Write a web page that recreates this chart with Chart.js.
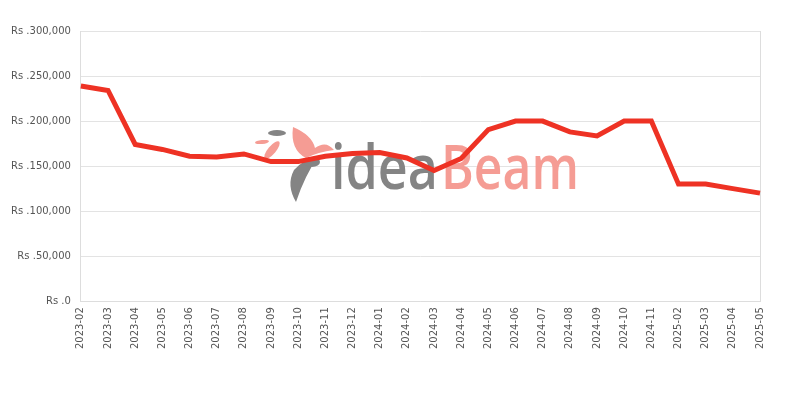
<!DOCTYPE html>
<html>
<head>
<meta charset="utf-8">
<script src="https://cdn.jsdelivr.net/npm/chart.js@4"></script>
<style>
  html, body { margin: 0; padding: 0; background: #fff; }
  #wrap { width: 800px; height: 400px; }
</style>
</head>
<body>
<div id="wrap"><canvas id="priceChart"></canvas></div>
<script>
const months = [
  "2023-02", "2023-03", "2023-04", "2023-05", "2023-06", "2023-07", "2023-08",
  "2023-09", "2023-10", "2023-11", "2023-12", "2024-01", "2024-02", "2024-03",
  "2024-04", "2024-05", "2024-06", "2024-07", "2024-08", "2024-09", "2024-10",
  "2024-11", "2025-02", "2025-03", "2025-04", "2025-05"
];
const prices = [
  239000, 234000, 174000, 168500, 161000, 160000, 163500,
  155000, 155000, 161000, 164000, 165000, 159000, 145000,
  158500, 190500, 200000, 200000, 188000, 183500, 200000,
  200000, 130000, 130000, 125000, 120000
];
const yTicks = [0, 50000, 100000, 150000, 200000, 250000, 300000];

// stretch a word into a given box width
function fitText(ctx, txt, x, base, w) {
  const m = ctx.measureText(txt).width;
  ctx.save();
  ctx.translate(x, base);
  ctx.scale(w / m, 1);
  ctx.fillText(txt, 0, 0);
  ctx.restore();
}

// watermark drawn behind the line
const watermark = {
  id: "watermark",
  beforeDatasetsDraw(chart) {
    const ctx = chart.ctx;
    ctx.save();
    ctx.font = "600 62px 'Open Sans', sans-serif";
    ctx.textBaseline = "alphabetic";
    ctx.fillStyle = "#848484";
    fitText(ctx, "idea", 331, 189, 107);
    ctx.fillStyle = "#f59c94";
    fitText(ctx, "Beam", 441, 189, 138);

    // rough bird logo
    ctx.fillStyle = "#f59c94";
    ctx.beginPath();
    ctx.moveTo(293, 127);
    ctx.quadraticCurveTo(312, 135, 315, 148);
    ctx.quadraticCurveTo(326, 140, 334, 150);
    ctx.quadraticCurveTo(318, 152, 306, 158);
    ctx.quadraticCurveTo(290, 150, 293, 127);
    ctx.fill();
    ctx.beginPath();
    ctx.ellipse(272, 150, 4, 11, 0.7, 0, Math.PI * 2);
    ctx.fill();
    ctx.beginPath();
    ctx.ellipse(262, 142, 7, 2, -0.1, 0, Math.PI * 2);
    ctx.fill();
    ctx.fillStyle = "#848484";
    ctx.beginPath();
    ctx.ellipse(277, 133, 9, 3, 0, 0, Math.PI * 2);
    ctx.fill();
    ctx.beginPath();
    ctx.moveTo(296, 202);
    ctx.quadraticCurveTo(286, 185, 294, 170);
    ctx.quadraticCurveTo(305, 158, 318, 157);
    ctx.quadraticCurveTo(305, 175, 296, 202);
    ctx.fill();
    ctx.beginPath();
    ctx.ellipse(312, 162, 8, 5, 0, 0, Math.PI * 2);
    ctx.fill();
    ctx.restore();
  }
};

const last = months.length - 1;

new Chart(document.getElementById("priceChart"), {
  type: "line",
  data: {
    labels: months,
    datasets: [{
      data: prices,
      borderColor: "#ee3224",
      borderWidth: 5,
      pointRadius: 0,
      fill: false,
      tension: 0,
    }],
  },
  options: {
    responsive: true,
    maintainAspectRatio: false,
    animation: false,
    layout: { padding: { left: 1, right: 40, top: 31, bottom: 45 } },
    plugins: { legend: { display: false }, tooltip: { enabled: false } },
    scales: {
      x: {
        grid: {
          drawTicks: false,
          color: (c) => (c.index === 0 || c.index === last) ? "#dddddd" : "rgba(0,0,0,0)",
        },
        border: { color: "#dddddd" },
        ticks: {
          font: { family: "DejaVu Sans", size: 10 },
          color: "#555",
          maxRotation: 90,
          minRotation: 90,
          autoSkip: false,
          padding: 6,
        },
      },
      y: {
        min: 0,
        max: 300000,
        afterBuildTicks: (axis) => { axis.ticks = yTicks.map((v) => ({ value: v })); },
        grid: { drawTicks: false, color: "#e3e3e3" },
        border: { color: "#dddddd" },
        ticks: {
          font: { family: "DejaVu Sans", size: 10 },
          color: "#555",
          padding: 10,
          callback: (v) => "Rs ." + Number(v).toLocaleString("en-US"),
        },
      },
    },
  },
  plugins: [watermark],
});
</script>
</body>
</html>
